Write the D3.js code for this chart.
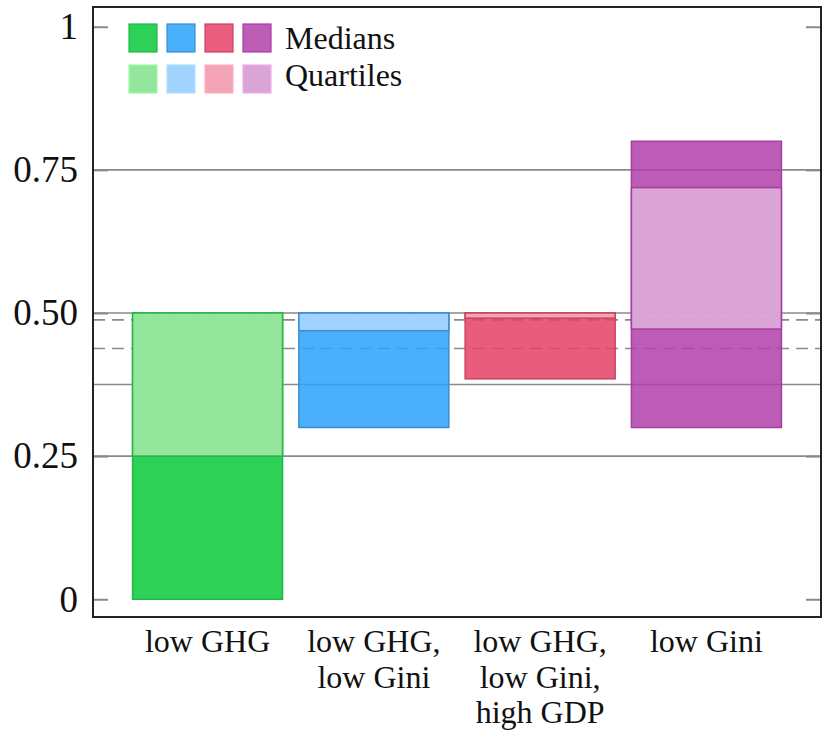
<html>
<script src="https://d3js.org/d3.v7.min.js"></script>
<style type="text/css">
    body { margin: 0; background: #fff; }
    text { font-family: 'Liberation Serif', 'Times New Roman', serif; fill: #111; }
</style>
<body>
<div id="chart"></div>
<script>
    // categories (one entry per bar, split into label lines)
    var categories = [
        ["low GHG"],
        ["low GHG,", "low Gini"],
        ["low GHG,", "low Gini,", "high GDP"],
        ["low Gini"]
    ];
    // range of the medians (dark) and of the quartiles (light)
    var medianLow    = [0.00, 0.300, 0.385, 0.300];
    var medianHigh   = [0.50, 0.500, 0.500, 0.800];
    var quartileLow  = [0.25, 0.469, 0.491, 0.472];
    var quartileHigh = [0.50, 0.500, 0.500, 0.719];

    var tickValues = [0, 0.25, 0.5, 0.75, 1];
    var tickLabels = ["0", "0.25", "0.50", "0.75", "1"];

    var solidRefs  = [0.25, 0.375, 0.5, 0.75];
    var dashedRefs = [0.438, 0.488];

    var darkColors  = ["#2dd158", "#4bb0fb", "#ea5d7e", "#bd5db6"];
    var lightColors = ["#94e69c", "#a0d3fe", "#f3a4b6", "#dca5d8"];
    var edgeColors  = ["#22b848", "#3a8ed0", "#c8445f", "#a83aa5"];
    var legendNames = ["Medians", "Quartiles"];

    var width = 833, height = 736;
    var plotLeft = 93, plotRight = 821, plotTop = 7, plotBottom = 617;
    var alpha = 0.85;

    // fill such that at alpha over the base colour it shows the wanted colour
    function over(c, base) {
        var rgb = d3.rgb(c), b = d3.rgb(base || "#fff");
        return d3.rgb((rgb.r - b.r * (1 - alpha)) / alpha,
                      (rgb.g - b.g * (1 - alpha)) / alpha,
                      (rgb.b - b.b * (1 - alpha)) / alpha).clamp().toString();
    }

    var svg = d3.select("#chart").append("svg")
        .attr("width", width)
        .attr("height", height);

    var x = d3.scaleBand()
        .domain(d3.range(categories.length))
        .range([plotLeft, plotRight])
        .paddingInner(0.098)
        .paddingOuter(0.238);

    var y = d3.scaleLinear()
        .domain([-0.031, 1.0345])
        .range([plotBottom, plotTop]);

    // reference lines
    svg.selectAll(".solid").data(solidRefs).enter().append("line")
        .attr("x1", plotLeft).attr("x2", plotRight)
        .attr("y1", function(d){ return y(d); })
        .attr("y2", function(d){ return y(d); })
        .attr("stroke", "#8a8a8a")
        .attr("stroke-width", 1.6);

    svg.selectAll(".dashed").data(dashedRefs).enter().append("line")
        .attr("x1", plotLeft).attr("x2", plotRight)
        .attr("y1", function(d){ return y(d); })
        .attr("y2", function(d){ return y(d); })
        .attr("stroke", "#8a8a8a")
        .attr("stroke-width", 1.6)
        .attr("stroke-dasharray", "12,7");

    // ticks on both sides
    var yl = svg.append("g")
        .attr("transform", "translate(" + plotLeft + ",0)")
        .call(d3.axisLeft(y).tickValues(tickValues).tickSize(-15).tickPadding(15)
            .tickFormat(function(d, i){ return tickLabels[i]; }));
    var yr = svg.append("g")
        .attr("transform", "translate(" + plotRight + ",0)")
        .call(d3.axisRight(y).tickValues(tickValues).tickSize(-15).tickFormat(""));
    [yl, yr].forEach(function(g){
        g.select(".domain").remove();
        g.selectAll(".tick line").attr("stroke", "#8a8a8a").attr("stroke-width", 2);
    });
    yl.selectAll(".tick text")
        .attr("font-size", 37)
        .attr("font-family", "'Liberation Serif', serif")
        .attr("fill", "#111");

    // bars: median range (dark) with the quartile range (light) on top
    var bars = svg.selectAll(".bar").data(categories).enter().append("g");
    bars.append("rect")
        .attr("x", function(d, i){ return x(i); })
        .attr("width", x.bandwidth())
        .attr("y", function(d, i){ return y(medianHigh[i]); })
        .attr("height", function(d, i){ return y(medianLow[i]) - y(medianHigh[i]); })
        .attr("fill", function(d, i){ return over(darkColors[i]); })
        .attr("fill-opacity", alpha)
        .attr("stroke", function(d, i){ return edgeColors[i]; })
        .attr("stroke-width", 1.5);
    bars.append("rect")
        .attr("x", function(d, i){ return x(i); })
        .attr("width", x.bandwidth())
        .attr("y", function(d, i){ return y(quartileHigh[i]); })
        .attr("height", function(d, i){ return y(quartileLow[i]) - y(quartileHigh[i]); })
        .attr("fill", function(d, i){ return over(lightColors[i], darkColors[i]); })
        .attr("fill-opacity", alpha)
        .attr("stroke", function(d, i){ return edgeColors[i]; })
        .attr("stroke-width", 1.5);

    // frame
    svg.append("rect")
        .attr("x", plotLeft).attr("y", plotTop)
        .attr("width", plotRight - plotLeft).attr("height", plotBottom - plotTop)
        .attr("fill", "none")
        .attr("stroke", "#222")
        .attr("stroke-width", 2);

    // category labels
    var labels = svg.selectAll(".cat").data(categories).enter().append("text")
        .attr("text-anchor", "middle")
        .attr("font-size", 32)
        .attr("x", function(d, i){ return x(i) + x.bandwidth() / 2; })
        .attr("y", 652);
    labels.selectAll("tspan").data(function(d){ return d; }).enter().append("tspan")
        .attr("x", function(){ return this.parentNode.getAttribute("x"); })
        .attr("dy", function(d, j){ return j == 0 ? 0 : 35.5; })
        .text(function(d){ return d; });

    // legend
    var legend = svg.append("g");
    [darkColors, lightColors].forEach(function(cols, r){
        legend.selectAll(".sw" + r).data(cols).enter().append("rect")
            .attr("x", function(d, i){ return 129 + i * 38; })
            .attr("y", 24 + r * 41)
            .attr("width", 28)
            .attr("height", 28)
            .attr("fill", function(d){ return d; })
            .attr("stroke", function(d, i){ return r == 0 ? edgeColors[i] : d3.rgb(d).brighter(0.2); })
            .attr("stroke-width", 1.2);
        legend.append("text")
            .attr("x", 285)
            .attr("y", 49 + r * 37)
            .attr("font-size", 32)
            .text(legendNames[r]);
    });
</script>
</body>
</html>
